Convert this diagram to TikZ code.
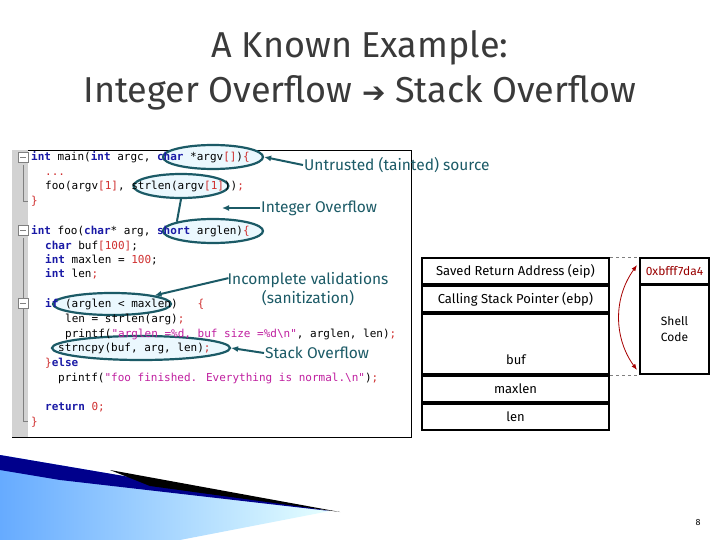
\documentclass[tikz,border=0pt]{standalone}
\usepackage{fontspec}
\setmainfont{Fira Sans}
\newfontfamily\codefont{DejaVu Sans Mono}
\newfontfamily\labfont{Fira Sans}
\newfontfamily\symfont{DejaVu Sans}
\usetikzlibrary{arrows.meta,shapes.geometric}
\definecolor{teal}{HTML}{1B5A66}
\definecolor{kw}{HTML}{1A1AA6}
\definecolor{num}{HTML}{D03030}
\definecolor{str}{HTML}{C020A0}
\definecolor{ttl}{HTML}{3A3A3A}
\tikzset{
 code/.style={anchor=base west,inner sep=0pt,font=\codefont\fontsize{11}{12}\selectfont},
 ell/.style={ellipse,draw=teal,line width=2.2pt,fill=cyan!8,inner sep=0pt},
 lab/.style={font=\labfont\fontsize{15.5}{19}\selectfont,text=teal,inner sep=1pt},
 arr/.style={-{Latex[length=7pt,width=6pt]},draw=teal,line width=2pt},
 cell/.style={draw,line width=2pt,minimum width=187pt,anchor=north west,inner sep=0pt,font=\fontsize{13}{14}\selectfont},
}
\newcommand{\K}[1]{\textcolor{kw}{\textbf{#1}}}
\newcommand{\N}[1]{\textcolor{num}{#1}}
\newcommand{\Sx}[1]{\textcolor{str}{#1}}
\begin{document}
\begin{tikzpicture}[x=1pt,y=-1pt]
\useasboundingbox (0,0) rectangle (720,540);
% bottom decoration
\shade[left color=cyan!45!blue!60,right color=cyan!10] (0,455) -- (330,511) -- (180,540) -- (0,540) -- cycle;
\fill[blue!55!black] (0,455) -- (330,511) -- (60,480) -- (0,470) -- cycle;
\fill[black] (110,470) -- (340,512) -- (150,486) -- cycle;
% title
\node[font=\fontsize{36}{38}\selectfont,text=ttl] (t1) at (360,48) {A Known Example:};
\node[font=\fontsize{36}{38}\selectfont,text=ttl] (t2) at (360,93) {Integer Overflow {\symfont\fontsize{28}{30}\selectfont ➔} Stack Overflow};
% code box
\draw[thick,fill=white] (12,150) rectangle (411,437);
\fill[gray!35] (12,150) rectangle (28,437);
\draw[gray] (23,165) -- (23,201) -- (28,201) (23,238) -- (23,421) -- (28,421);
\foreach \y in {157,230,303}{\draw[gray,fill=white] (18,\y-5) rectangle (28,\y+5); \draw[gray] (20,\y) -- (26,\y);}
% ellipses
\node[ell,minimum width=100pt,minimum height=24pt] (e1) at (213,157) {};
\node[ell,minimum width=95pt,minimum height=24pt] (e2) at (181,186) {};
\node[ell,minimum width=100pt,minimum height=24pt] (e3) at (213,231) {};
\node[ell,minimum width=118pt,minimum height=22pt] (e4) at (112,304) {};
\node[ell,minimum width=178pt,minimum height=24pt] (e5) at (141,348) {};
\draw[teal,line width=2pt] (e2.south) -- (e3.north west);
% code
\node[code] (c1) at (31,161) {\K{int} main(\K{int} argc, \K{char} *argv\N{[]})\N{\{}};
\node[code] (c2) at (45,176) {\N{...}};
\node[code] (c3) at (45,190) {foo(argv\N{[1]}, strlen(argv\N{[1]}))\N{;}};
\node[code] (c4) at (31,205) {\N{\}}};
\node[code] (c5) at (31,234) {\K{int} foo(\K{char}* arg, \K{short} arglen)\N{\{}};
\node[code] (c6) at (45,249) {\K{char} buf\N{[100]};};
\node[code] (c7) at (45,263) {\K{int} maxlen = \N{100};};
\node[code] (c8) at (45,277) {\K{int} len\N{;}};
\node[code] (c9) at (45,307) {\K{if} (arglen < maxlen)~~~\N{\{}};
\node[code] (c10) at (65,322) {len = strlen(arg)\N{;}};
\node[code] (c11) at (65,337) {printf(\Sx{"arglen =\%d, buf size =\%d\textbackslash n"}, arglen, len)\N{;}};
\node[code] (c12) at (58,351) {strncpy(buf, arg, len)\N{;}};
\node[code] (c13) at (45,366) {\N{\}}\K{else}};
\node[code] (c14) at (58,381) {printf(\Sx{"foo finished. Everything is normal.\textbackslash n"})\N{;}};
\node[code] (c15) at (45,410) {\K{return} \N{0;}};
\node[code] (c16) at (31,425) {\N{\}}};
% labels
\node[lab,anchor=west] (l1) at (303,165) {Untrusted (tainted) source};
\node[lab,anchor=west] (l2) at (260,208) {Integer Overflow};
\node[lab,align=center] (l3) at (308,289) {Incomplete validations\\(sanitization)};
\node[lab,anchor=west] (l4) at (264,353) {Stack Overflow};
\draw[arr] (l1.west) -- (e1.east);
\draw[arr] (l2.west) -- ++(-38,0);
\draw[arr] ([xshift=2pt,yshift=-7pt]l3.north west) -- (e4.north east);
\draw[arr] (l4.west) -- (e5.east);
% stack
\node[cell,minimum height=26pt] (s1) at (421,257) {Saved Return Address (eip)};
\node[cell,minimum height=26pt] (s2) at (421,285) {Calling Stack Pointer (ebp)};
\node[cell,minimum height=60pt] (s3) at (421,313) {};
\node[font=\fontsize{13}{14}\selectfont] (bt) at (516,360) {buf};
\node[cell,minimum height=26pt] (s4) at (421,375) {maxlen};
\node[cell,minimum height=26pt] (s5) at (421,403) {len};
\node[draw,line width=2pt,minimum width=69pt,minimum height=26pt,anchor=north west,inner sep=0pt,text=red!60!black,font=\fontsize{12}{13}\selectfont] (r1) at (639,257) {0xbfff7da4};
\node[draw,line width=2pt,minimum width=69pt,minimum height=89pt,anchor=north west,inner sep=0pt,align=center,font=\fontsize{12}{16}\selectfont] (r2) at (639,284) {Shell\\Code};
\draw[gray,dashed,thick] (s1.north east) -- (r1.north west);
\draw[gray,dashed,thick] (s3.south east) -- (r2.south west);
\draw[red!65!black,thick,{Latex[length=6pt]}-{Latex[length=6pt]}] (637,265) .. controls (612,300) and (615,340) .. (637,370);
\node[font=\fontsize{9}{10}\selectfont] (pg) at (698,522) {8};
\end{tikzpicture}
\end{document}
